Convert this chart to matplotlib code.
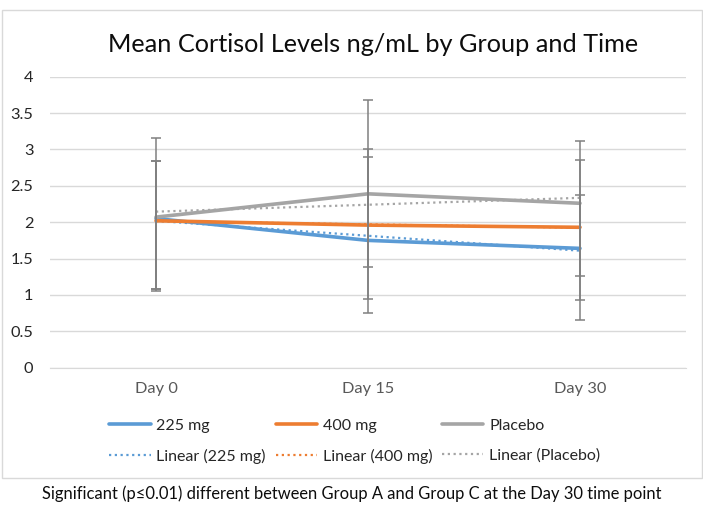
import numpy as np
import matplotlib.pyplot as plt
from matplotlib.patches import Rectangle

plt.rcParams['font.family'] = ['Lato', 'DejaVu Sans']

days = ['Day 0', 'Day 15', 'Day 30']
groups = ['225 mg', '400 mg', 'Placebo']
colors = ['#5B9BD5', '#ED7D31', '#A5A5A5']

# means
mean_225 = [2.05, 1.75, 1.64]
mean_400 = [2.02, 1.96, 1.93]
mean_pbo = [2.07, 2.39, 2.26]

# error bar ends (low, high)
low_225 = [1.05, 0.75, 0.65]
high_225 = [3.16, 2.90, 2.86]
low_400 = [1.08, 0.94, 0.93]
high_400 = [2.84, 3.00, 2.38]
low_pbo = [1.08, 1.39, 1.26]
high_pbo = [2.84, 3.68, 3.12]

means = [mean_225, mean_400, mean_pbo]
lows = [low_225, low_400, low_pbo]
highs = [high_225, high_400, high_pbo]

W, H = 703, 505
fig = plt.figure(figsize=(W / 100, H / 100), dpi=100, facecolor='white')
fig.patches.append(Rectangle((1.5 / W, 1 - 478 / H), 700 / W, 468 / H,
                             transform=fig.transFigure, facecolor='none',
                             edgecolor='#D9D9D9', lw=1.0, zorder=0))

ax = fig.add_axes([50 / W, 1 - 367.7 / H, 636 / W, 291 / H])
ax.set_facecolor('none')
x = np.arange(len(days))

line_handles = []
trend_handles = []
for m, lo, hi, c, g in zip(means, lows, highs, colors, groups):
    m = np.array(m)
    h, = ax.plot(x, m, color=c, lw=2.6, solid_capstyle='round', zorder=3, label=g)
    line_handles.append(h)
    k, b = np.polyfit(x + 1, m, 1)
    t, = ax.plot(x, k * (x + 1) + b, color=c, lw=1.6, linestyle=(0, (1, 1.6)),
                 zorder=2, label='Linear (' + g + ')')
    trend_handles.append(t)
    yerr = [m - np.array(lo), np.array(hi) - m]
    ax.errorbar(x, m, yerr=yerr, fmt='none', ecolor='#808080', elinewidth=1.1,
                capsize=3.5, capthick=1.1, zorder=4)

ax.set_xlim(-0.5, 2.5)
ax.set_ylim(0, 4)
ax.set_yticks(np.arange(0, 4.01, 0.5))
ax.set_yticklabels(['0', '0.5', '1', '1.5', '2', '2.5', '3', '3.5', '4'])
ax.set_xticks(x)
ax.set_xticklabels(days, color='#595959')
ax.grid(axis='y', color='#D9D9D9', lw=1.0)
ax.set_axisbelow(True)
for s in ['top', 'right', 'left']:
    ax.spines[s].set_visible(False)
ax.spines['bottom'].set_color('#D9D9D9')
ax.tick_params(axis='both', length=0, labelsize=11.8, colors='#404040')
ax.tick_params(axis='x', pad=10, colors='#595959')
ax.tick_params(axis='y', pad=12, labelcolor='#262626')

fig.text(373 / W, 1 - 44 / H, 'Mean Cortisol Levels ng/mL by Group and Time',
         ha='center', va='center', fontsize=18.2, color='#0D0D0D')

handles = [line_handles[0], trend_handles[0], line_handles[1], trend_handles[1],
           line_handles[2], trend_handles[2]]
fig.legend(handles=handles, labels=[h.get_label() for h in handles], ncol=3,
           loc='center left', bbox_to_anchor=(95 / W, 1 - 441 / H), frameon=False,
           fontsize=11.5, handlelength=2.6, handletextpad=0.35, columnspacing=0.6,
           labelspacing=1.0, labelcolor='#262626')

fig.text(352 / W, 1 - 494 / H,
         'Significant (p\u22640.01) different between Group A and Group C at the Day 30 time point',
         ha='center', va='center', fontsize=11.9, color='#0D0D0D')

fig.savefig('out.png', dpi=100)
